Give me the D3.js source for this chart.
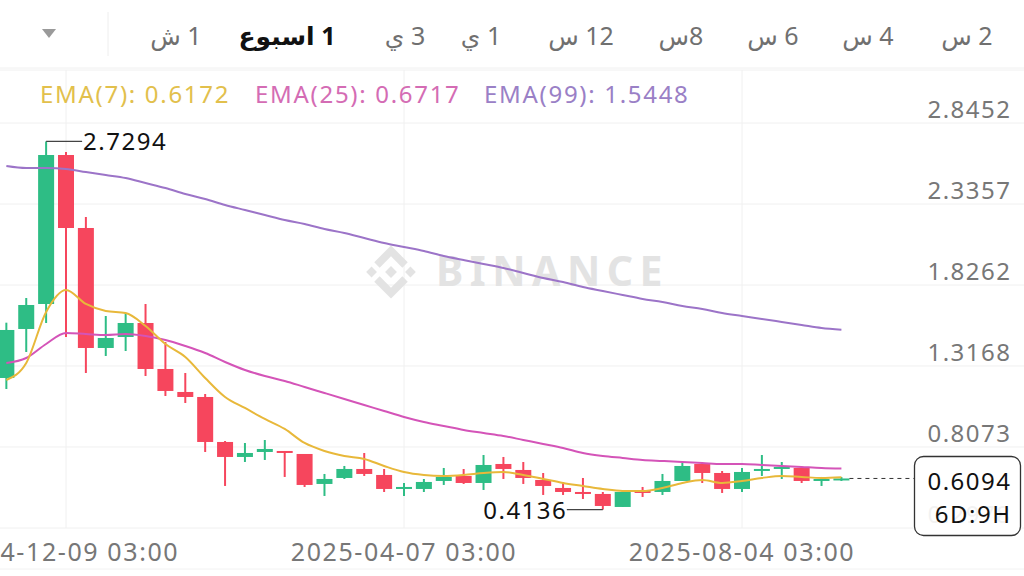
<!DOCTYPE html>
<html>
<head>
<meta charset="utf-8">
<script src="https://cdn.jsdelivr.net/npm/d3@7"></script>
<style>
  body { margin: 0; background: #fff; }
  svg { display: block; font-family: "Noto Sans", "DejaVu Sans", sans-serif; }
</style>
</head>
<body>
<svg id="chart" width="1024" height="576"></svg>
<script>
// weekly candles (week start dates)
const dates = [
  "2024-11-18", "2024-11-25", "2024-12-02", "2024-12-09", "2024-12-16", "2024-12-23", "2024-12-30",
  "2025-01-06", "2025-01-13", "2025-01-20", "2025-01-27", "2025-02-03", "2025-02-10", "2025-02-17",
  "2025-02-24", "2025-03-03", "2025-03-10", "2025-03-17", "2025-03-24", "2025-03-31", "2025-04-07",
  "2025-04-14", "2025-04-21", "2025-04-28", "2025-05-05", "2025-05-12", "2025-05-19", "2025-05-26",
  "2025-06-02", "2025-06-09", "2025-06-16", "2025-06-23", "2025-06-30", "2025-07-07", "2025-07-14",
  "2025-07-21", "2025-07-28", "2025-08-04", "2025-08-11", "2025-08-18", "2025-08-25", "2025-09-01",
  "2025-09-08"
];
const opens = [
  1.2414, 1.5496, 1.7068, 2.6439, 2.1848, 1.4301, 1.4993, 1.5873, 1.2980, 1.1534, 1.1219, 0.8389, 0.7446, 0.7760,
  0.7823, 0.7634, 0.5748, 0.6125, 0.6691, 0.6314, 0.5433, 0.5433, 0.5936, 0.6251, 0.5810, 0.7005, 0.6628, 0.5999,
  0.5496, 0.5244, 0.5119, 0.4301, 0.5307, 0.5244, 0.5936, 0.7005, 0.6439, 0.5433, 0.6565, 0.6691, 0.6754, 0.5936,
  0.5999
];
const highs = [
  1.5892, 1.7446, 2.7294, 2.6628, 2.2540, 1.6314, 1.6502, 1.7068, 1.4678, 1.2729, 1.1408, 0.8452, 0.8326, 0.8515,
  0.7823, 0.7634, 0.6377, 0.6880, 0.7697, 0.6691, 0.5810, 0.6062, 0.6754, 0.6691, 0.7571, 0.7446, 0.7131, 0.6439,
  0.5873, 0.6125, 0.5244, 0.5307, 0.5559, 0.6377, 0.7068, 0.7068, 0.6565, 0.6754, 0.7571, 0.7131, 0.6817, 0.6188,
  0.6188
];
const lows = [
  1.1722, 1.4049, 1.5873, 1.4993, 1.2729, 1.3798, 1.4112, 1.2540, 1.1282, 1.0842, 0.7760, 0.5622, 0.7131, 0.7257,
  0.6188, 0.5559, 0.4993, 0.6062, 0.6251, 0.5244, 0.4993, 0.5244, 0.5685, 0.5748, 0.5370, 0.6062, 0.5748, 0.5056,
  0.5056, 0.4804, 0.4136, 0.4301, 0.4930, 0.5056, 0.5936, 0.5810, 0.5182, 0.5244, 0.6251, 0.6062, 0.5810, 0.5622,
  0.5936
];
const closes = [
  1.5433, 1.7005, 2.6439, 2.1848, 1.4301, 1.4930, 1.5873, 1.2980, 1.1597, 1.1219, 0.8389, 0.7446, 0.7697, 0.7949,
  0.7697, 0.5685, 0.6062, 0.6691, 0.6377, 0.5433, 0.5559, 0.5873, 0.6188, 0.5810, 0.6942, 0.6691, 0.6125, 0.5622,
  0.5244, 0.5119, 0.4364, 0.5244, 0.5182, 0.5936, 0.6880, 0.6439, 0.5433, 0.6502, 0.6691, 0.6817, 0.5936, 0.6062,
  0.6094
];
const ema7 = [
  1.2288, 1.3358, 1.6565, 1.7949, 1.7068, 1.6628, 1.6502, 1.5685, 1.4553, 1.3735, 1.2414, 1.1219, 1.0527, 0.9836,
  0.9207, 0.8326, 0.7823, 0.7508, 0.7320, 0.6880, 0.6502, 0.6314, 0.6251, 0.6314, 0.6439, 0.6502, 0.6314, 0.6062,
  0.5810, 0.5622, 0.5433, 0.5307, 0.5307, 0.5496, 0.5810, 0.5999, 0.5810, 0.5936, 0.6125, 0.6251, 0.6188, 0.6125,
  0.6172
];
const ema25 = [
  1.3358, 1.3672, 1.4553, 1.5244, 1.5182, 1.5119, 1.5182, 1.5056, 1.4804, 1.4427, 1.3987, 1.3420, 1.2917, 1.2540,
  1.2226, 1.1848, 1.1471, 1.1094, 1.0716, 1.0339, 0.9961, 0.9647, 0.9395, 0.9144, 0.8955, 0.8766, 0.8515, 0.8263,
  0.8012, 0.7697, 0.7508, 0.7383, 0.7257, 0.7194, 0.7131, 0.7068, 0.7005, 0.7005, 0.6942, 0.6880, 0.6817, 0.6754,
  0.6717
];
const ema99 = [
  2.5748, 2.5622, 2.5622, 2.5559, 2.5370, 2.5182, 2.4993, 2.4678, 2.4364, 2.3987, 2.3672, 2.3295, 2.2980, 2.2666,
  2.2351, 2.2100, 2.1785, 2.1534, 2.1219, 2.0905, 2.0653, 2.0402, 2.0087, 1.9836, 1.9584, 1.9332, 1.9018, 1.8704,
  1.8452, 1.8137, 1.7886, 1.7634, 1.7383, 1.7194, 1.6942, 1.6754, 1.6502, 1.6314, 1.6125, 1.5936, 1.5748, 1.5559,
  1.5448
];
const yTicks = [2.8452, 2.3357, 1.8262, 1.3168, 0.8073, 0.2978];
const xTicks = ["2024-12-09", "2025-04-07", "2025-08-04"];
const tabs = ["2 س", "4 س", "6 س", "8س", "12 س", "1 ي", "3 ي", "1 اسبوع", "1 ش"];
const activeTab = "1 اسبوع";
const countdown = "6D:9H";

const green = "#2ebd85", red = "#f6465d";
const emaColors = ["#e8b83a", "#d454b8", "#9c74c8"];
const legendColors = ["#e2c04c", "#d46cb4", "#9a80c6"];

const parse = s => new Date(s + "T03:00:00Z");
const candles = dates.map((d, i) => ({
  date: parse(d), open: opens[i], high: highs[i], low: lows[i], close: closes[i]
}));

const svg = d3.select("#chart");

const x = d3.scaleUtc()
  .domain([parse(xTicks[1]), parse(xTicks[2])])
  .range([404, 742]);
const y = d3.scaleLinear()
  .domain([yTicks[yTicks.length - 1], yTicks[0]])
  .range([528, 123]);

const gridTop = 70, gridBottom = 528;
const ls = 1.5; // 字距

// 顶部时间周期栏
const tabX = [967, 868, 773, 681, 581, 481, 405, 287, 176];
svg.append("path")
  .attr("d", "M42,29 L56,29 L49,38 Z")
  .attr("fill", "#9a9a9a");
svg.append("line")
  .attr("x1", 108).attr("x2", 108).attr("y1", 12).attr("y2", 56)
  .attr("stroke", "#eeeeee");
svg.selectAll("text.tab")
  .data(tabs)
  .enter()
  .append("text")
  .attr("class", "tab")
  .attr("x", (d, i) => tabX[i])
  .attr("y", 45)
  .attr("direction", "rtl")
  .attr("text-anchor", "middle")
  .attr("font-size", 25)
  .attr("font-weight", d => d === activeTab ? 700 : 400)
  .attr("fill", d => d === activeTab ? "#111" : "#707070")
  .text(d => d);
svg.append("line")
  .attr("x1", 0).attr("x2", 1024).attr("y1", 68).attr("y2", 68)
  .attr("stroke", "#f0f0f0");

// 网格
svg.append("g")
  .selectAll("line")
  .data([gridTop].concat(yTicks.map(y)))
  .enter()
  .append("line")
  .attr("x1", 0).attr("x2", 1024)
  .attr("y1", d => d).attr("y2", d => d)
  .attr("stroke", "#f0f0f0");
svg.append("g")
  .selectAll("line")
  .data(xTicks)
  .enter()
  .append("line")
  .attr("x1", d => x(parse(d))).attr("x2", d => x(parse(d)))
  .attr("y1", gridTop).attr("y2", gridBottom)
  .attr("stroke", "#f0f0f0");
svg.append("line")
  .attr("x1", 0).attr("x2", 1024).attr("y1", 569).attr("y2", 569)
  .attr("stroke", "#f2f2f2");

// 水印
const wm = svg.append("g").attr("fill", "#e3e3e3");
const logo = wm.append("g").attr("transform", "translate(391,272) scale(27)");
const diamond = (cx, cy, r) => `M${cx},${cy - r}L${cx + r},${cy}L${cx},${cy + r}L${cx - r},${cy}Z`;
logo.append("path").attr("d", diamond(0, 0, 0.22));
logo.append("path").attr("d", diamond(-0.72, 0, 0.2));
logo.append("path").attr("d", diamond(0.72, 0, 0.2));
logo.append("path").attr("d", "M0,-0.98L0.62,-0.36L0.42,-0.16L0,-0.58L-0.42,-0.16L-0.62,-0.36Z");
logo.append("path").attr("d", "M0,0.98L0.62,0.36L0.42,0.16L0,0.58L-0.42,0.16L-0.62,0.36Z");
wm.append("text")
  .attr("x", 436).attr("y", 286)
  .attr("font-size", 41).attr("font-weight", 700)
  .attr("letter-spacing", 6.5)
  .text("BINANCE");

// y 轴标签
svg.append("g")
  .selectAll("text")
  .data(yTicks)
  .enter()
  .append("text")
  .attr("x", 1010 + ls)
  .attr("y", d => y(d) - 5)
  .attr("text-anchor", "end")
  .attr("font-size", 24)
  .attr("letter-spacing", ls)
  .attr("fill", "#777")
  .text(d => d3.format(".4f")(d));

// x 轴标签
svg.append("g")
  .selectAll("text")
  .data(xTicks)
  .enter()
  .append("text")
  .attr("x", d => x(parse(d)))
  .attr("y", 561)
  .attr("text-anchor", "middle")
  .attr("font-size", 25)
  .attr("letter-spacing", 1.6)
  .attr("fill", "#777")
  .text(d => d3.utcFormat("%Y-%m-%d %H:%M")(parse(d)));

// 蜡烛
const bodyW = 16;
const cg = svg.append("g");
cg.selectAll("line")
  .data(candles)
  .enter()
  .append("line")
  .attr("x1", d => x(d.date)).attr("x2", d => x(d.date))
  .attr("y1", d => y(d.high)).attr("y2", d => y(d.low))
  .attr("stroke", d => d.close >= d.open ? green : red)
  .attr("stroke-width", 2);
cg.selectAll("rect")
  .data(candles)
  .enter()
  .append("rect")
  .attr("x", d => x(d.date) - bodyW / 2)
  .attr("width", bodyW)
  .attr("y", d => y(Math.max(d.open, d.close)))
  .attr("height", d => Math.max(2, Math.abs(y(d.open) - y(d.close))))
  .attr("fill", d => d.close >= d.open ? green : red);

// EMA 线
const line = d3.line()
  .x((d, i) => x(candles[i].date))
  .y(d => y(d))
  .curve(d3.curveMonotoneX);
[ema99, ema25, ema7].forEach((s, k) => {
  svg.append("path")
    .datum(s)
    .attr("d", line)
    .attr("fill", "none")
    .attr("stroke", emaColors[2 - k])
    .attr("stroke-width", 2);
});

// 图例
const legendX = [40, 255, 484];
const legendNames = ["EMA(7)", "EMA(25)", "EMA(99)"];
const lastVals = [ema7, ema25, ema99].map(s => s[s.length - 1]);
svg.append("g")
  .selectAll("text")
  .data(legendNames)
  .enter()
  .append("text")
  .attr("x", (d, i) => legendX[i])
  .attr("y", 103)
  .attr("font-size", 24)
  .attr("letter-spacing", 1.7)
  .attr("fill", (d, i) => legendColors[i])
  .text((d, i) => `${d}: ${d3.format(".4f")(lastVals[i])}`);

// 最高 / 最低标注
const hiIdx = d3.maxIndex(candles, d => d.high);
const loIdx = d3.minIndex(candles, d => d.low);
const hi = candles[hiIdx], lo = candles[loIdx];
svg.append("line")
  .attr("x1", x(hi.date)).attr("x2", x(hi.date) + 36)
  .attr("y1", y(hi.high)).attr("y2", y(hi.high))
  .attr("stroke", "#444").attr("stroke-width", 1.2);
svg.append("text")
  .attr("x", x(hi.date) + 37).attr("y", y(hi.high) + 9)
  .attr("font-size", 24).attr("letter-spacing", ls).attr("fill", "#111")
  .text(d3.format(".4f")(hi.high));
svg.append("line")
  .attr("x1", x(lo.date)).attr("x2", x(lo.date) - 36)
  .attr("y1", y(lo.low)).attr("y2", y(lo.low))
  .attr("stroke", "#444").attr("stroke-width", 1.2);
svg.append("text")
  .attr("x", x(lo.date) - 37 + ls).attr("y", y(lo.low) + 9)
  .attr("text-anchor", "end")
  .attr("font-size", 24).attr("letter-spacing", ls).attr("fill", "#111")
  .text(d3.format(".4f")(lo.low));

// 当前价格
const last = candles[candles.length - 1];
svg.append("line")
  .attr("x1", x(last.date) + 8).attr("x2", 914)
  .attr("y1", y(last.close)).attr("y2", y(last.close))
  .attr("stroke", "#333").attr("stroke-dasharray", "4,4");
svg.append("rect")
  .attr("x", 914.5).attr("y", 456.5)
  .attr("width", 106).attr("height", 79)
  .attr("rx", 9)
  .attr("fill", "#fff").attr("fill-opacity", 0.9)
  .attr("stroke", "#333").attr("stroke-width", 1.3);
svg.append("text")
  .attr("x", 1010 + ls).attr("y", 490)
  .attr("text-anchor", "end")
  .attr("font-size", 24).attr("letter-spacing", ls).attr("fill", "#111")
  .text(d3.format(".4f")(last.close));
svg.append("text")
  .attr("x", 1010 + ls).attr("y", 523)
  .attr("text-anchor", "end")
  .attr("font-size", 24).attr("letter-spacing", ls).attr("fill", "#111")
  .text(countdown);
</script>
</body>
</html>
